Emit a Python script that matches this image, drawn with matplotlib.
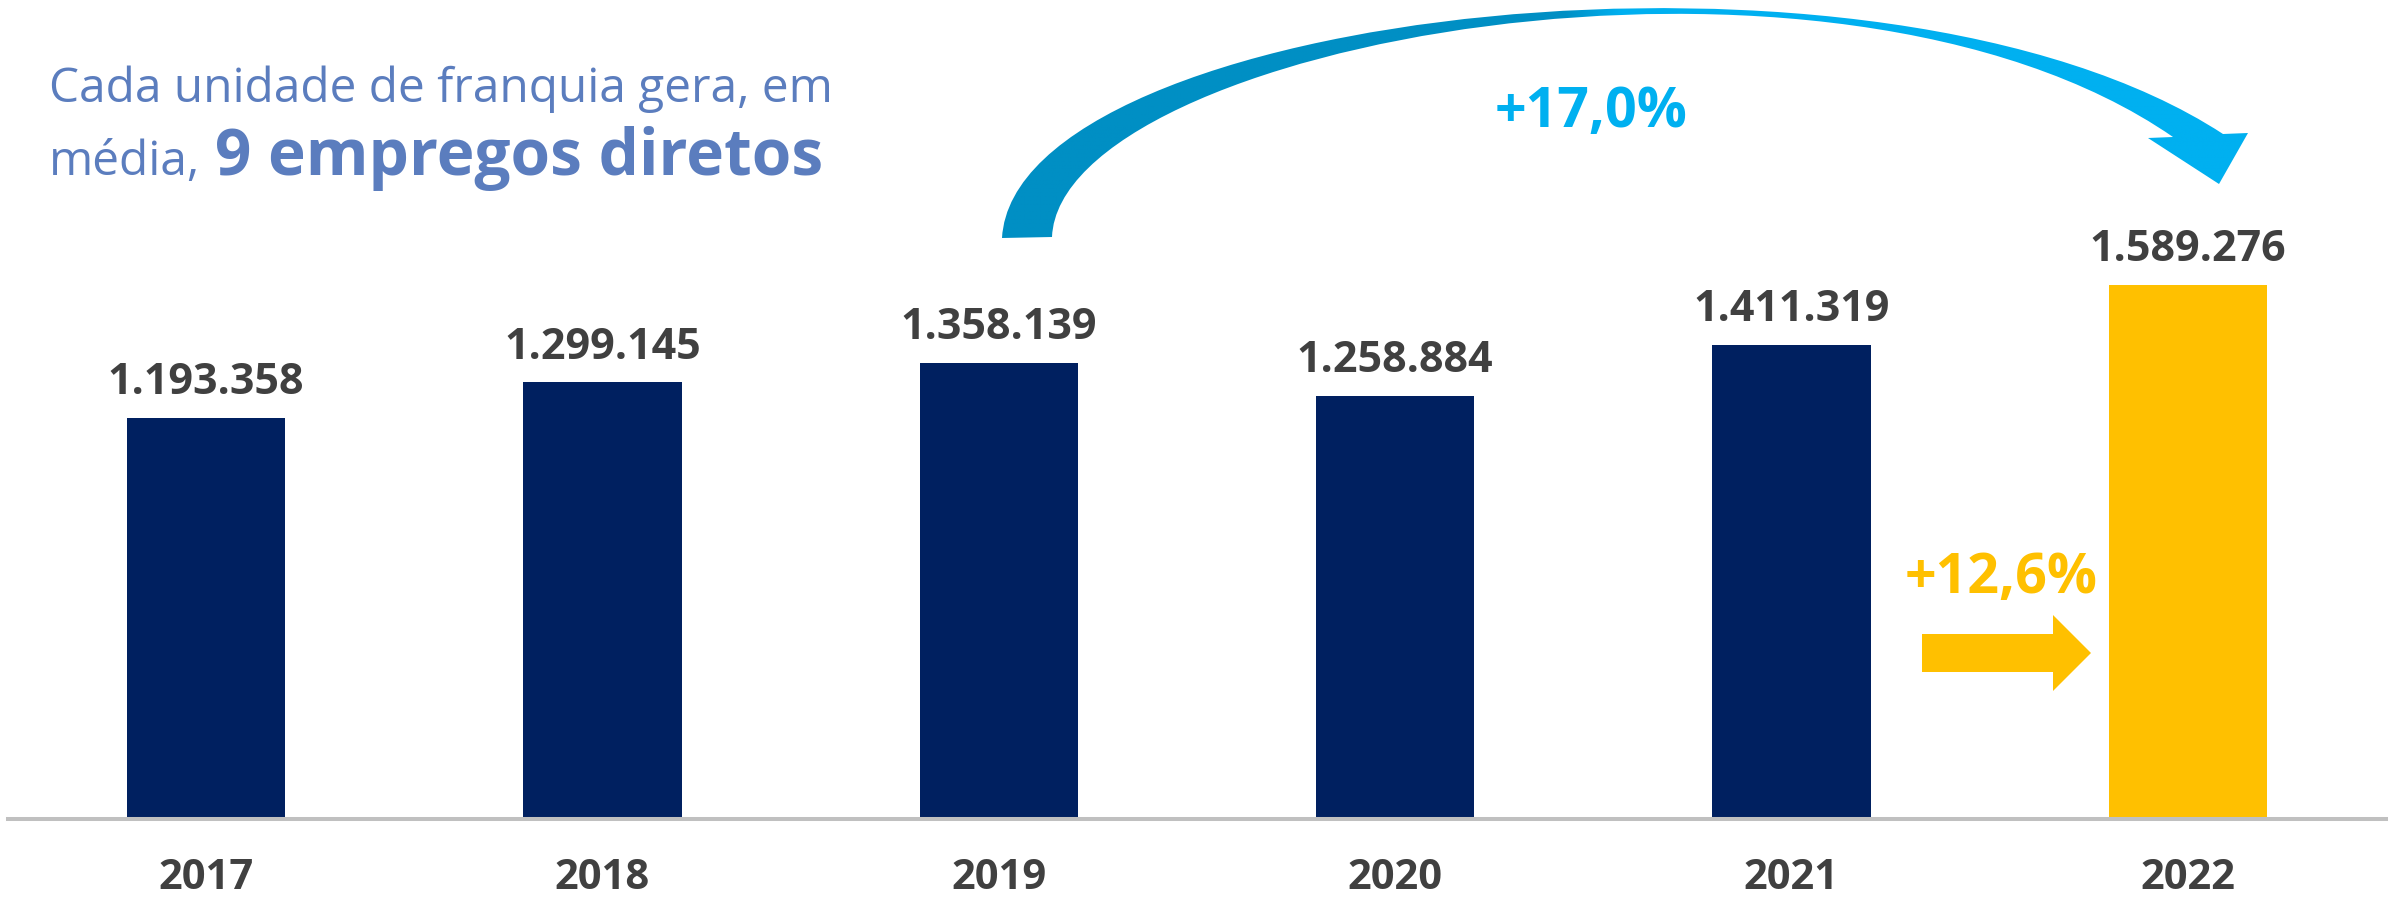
"""
Franchise jobs per year - bar chart with growth annotations.
"""
import numpy as np
import matplotlib
matplotlib.use("Agg")
import matplotlib.pyplot as plt
from matplotlib.path import Path
from matplotlib.patches import PathPatch, FancyArrow
from matplotlib.colors import to_rgb
from matplotlib.transforms import blended_transform_factory, IdentityTransform

plt.rcParams["font.family"] = ["Open Sans", "DejaVu Sans"]

# data
years = ["2017", "2018", "2019", "2020", "2021", "2022"]
jobs = [1193358, 1299145, 1358139, 1258884, 1411319, 1589276]
growth_2019_2022 = "+17,0%"
growth_2021_2022 = "+12,6%"
title_line1 = "Cada unidade de franquia gera, em"
title_line2a = "média,"
title_line2b = "9 empregos diretos"

NAVY = "#002060"
GOLD = "#FFC000"
LABEL = "#404040"
TITLE = "#5B7DBE"
CYAN_DARK = "#008FC4"
CYAN = "#00B0F0"

W, H = 2403, 900
fig = plt.figure(figsize=(W / 100, H / 100), dpi=100)

# main bar axes (baseline at pixel row 819)
ax = fig.add_axes([8 / W, 1 - 819 / H, 2378 / W, 819 / H])
x = np.arange(len(years))
colors = [NAVY] * (len(years) - 1) + [GOLD]
ax.bar(x, jobs, width=0.4, color=colors, zorder=1)
ax.set_xlim(-0.5, len(years) - 0.5)
ax.set_ylim(0, 2.437e6)
for s in ["top", "left", "right"]:
    ax.spines[s].set_visible(False)
ax.spines["bottom"].set_color("#C0C0C0")
ax.spines["bottom"].set_linewidth(2.9)
ax.set_yticks([])
ax.set_xticks([])

for i, v in enumerate(jobs):
    ax.annotate(f"{v:,}".replace(",", "."), (i, v), xytext=(0, 17),
                textcoords="offset points", ha="center", va="baseline",
                fontsize=31, fontweight="bold", color=LABEL)
    ax.annotate(years[i], (i, 0), xytext=(0, -57.3),
                textcoords="offset points", ha="center", va="bottom",
                fontsize=30, fontweight="bold", color=LABEL,
                annotation_clip=False)

# overlay in pixel coordinates for the decorations
ov = fig.add_axes([0, 0, 1, 1], zorder=5)
ov.set_xlim(0, W)
ov.set_ylim(H, 0)
ov.axis("off")
ov.patch.set_alpha(0)

# title
ov.text(49, 102, title_line1, fontsize=34.4, color=TITLE, va="baseline")
t2 = ov.text(49, 175, title_line2a, fontsize=34.4, color=TITLE, va="baseline")
fig.canvas.draw()
x_end = t2.get_window_extent().x1 + 15
ov.text(x_end, 175, title_line2b, fontsize=46, fontweight="bold",
        color=TITLE, va="baseline",
        transform=blended_transform_factory(IdentityTransform(), ov.transData))

# curved arrow (2019 -> 2022)
verts = [
    (1002, 238), (1015, 10), (1880, -90), (2223, 134),
    (2248, 133), (2219, 184), (2148, 138), (2173, 137),
    (1830, -100), (1060, 45), (1052, 237),
    (1002, 238), (1002, 238),
]
codes = [Path.MOVETO, Path.CURVE4, Path.CURVE4, Path.CURVE4,
         Path.LINETO, Path.LINETO, Path.LINETO, Path.LINETO,
         Path.CURVE4, Path.CURVE4, Path.CURVE4,
         Path.LINETO, Path.CLOSEPOLY]
arc = PathPatch(Path(verts, codes), facecolor="none", edgecolor="none")
ov.add_patch(arc)
gx = np.linspace(990, 2270, 400)
mix = np.clip((gx - 1565) / 55, 0, 1)[:, None]
grad = (1 - mix) * np.array(to_rgb(CYAN_DARK)) + mix * np.array(to_rgb(CYAN))
im = ov.imshow(grad[None, :, :], extent=[990, 2270, 250, 0], aspect="auto",
               zorder=2, interpolation="bilinear")
im.set_clip_path(arc)
ov.set_xlim(0, W)
ov.set_ylim(H, 0)

ov.text(1591, 127, growth_2019_2022, fontsize=40, fontweight="bold",
        color=CYAN, ha="center", va="baseline")

# straight arrow (2021 -> 2022)
ov.add_patch(FancyArrow(1922, 653, 169, 0, width=38, head_width=76,
                        head_length=38, length_includes_head=True,
                        color=GOLD, lw=0))
ov.text(2001, 593, growth_2021_2022, fontsize=40, fontweight="bold",
        color=GOLD, ha="center", va="baseline")

fig.savefig("out.png", dpi=100)
plt.close(fig)
